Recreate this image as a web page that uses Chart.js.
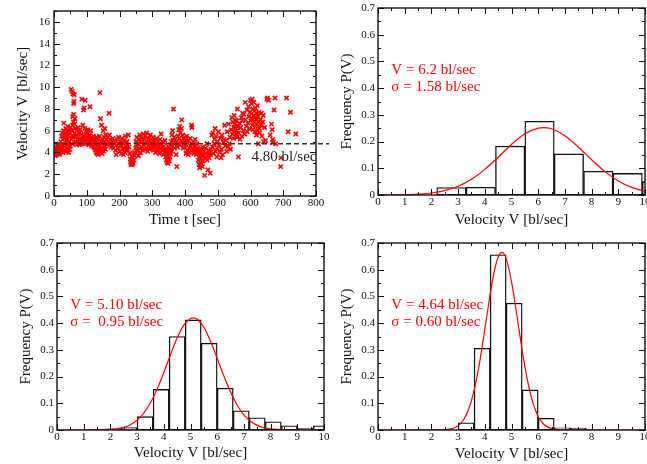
<!DOCTYPE html>
<html>
<head>
<meta charset="utf-8">
<script src="https://cdn.jsdelivr.net/npm/chart.js@4.4.0/dist/chart.umd.min.js"></script>
<style>
  html, body { margin: 0; padding: 0; background: #fff; }
  #page { position: relative; width: 647px; height: 464px; overflow: hidden; }
  .panel { position: absolute; }
</style>
</head>
<body>
<div id="page">
  <div class="panel" style="left:0;top:0"><canvas id="timeChart" width="330" height="232"></canvas></div>
  <div class="panel" style="left:330px;top:0"><canvas id="histB" width="317" height="232"></canvas></div>
  <div class="panel" style="left:0;top:232px"><canvas id="histC" width="330" height="232"></canvas></div>
  <div class="panel" style="left:330px;top:232px"><canvas id="histD" width="317" height="232"></canvas></div>
</div>
<script>
// ---- time series (t [sec], V [bl/sec])
const trackSamples = [
  [1,4.0],[2,3.8],[3,4.3],[4,3.7],[5,4.1],[6,4.5],[7,3.9],[8,4.2],[9,3.8],[10,4.4],[11,4.0],[12,4.6],[13,3.9],[14,4.2],[15,4.8],[16,4.1],[17,3.8],[18,4.5],[19,4.0],[20,4.3],
  [21,5.0],[22,4.4],[23,5.5],[24,4.1],[25,5.8],[26,4.7],[27,5.2],[28,4.0],[29,6.0],[30,6.7],[31,4.5],[32,5.4],[33,4.2],[34,5.7],[35,4.8],[36,6.2],[37,4.1],[38,5.1],[39,5.9],[40,4.4],
  [41,5.3],[42,6.4],[43,4.7],[44,5.6],[45,4.0],[46,6.0],[47,5.0],[48,4.3],[49,5.8],[50,4.6],
  [51,6.3],[52,9.8],[53,5.2],[54,6.0],[55,9.6],[56,5.5],[57,7.3],[58,9.4],[59,6.8],[60,7.5],[61,8.7],[62,9.3],[63,5.8],[64,7.1],[65,6.2],[66,5.0],[60,8.5],[57,6.5],[63,6.6],[55,4.8],[59,5.4],
  [67,4.9],[68,5.6],[69,4.7],[70,6.0],[71,5.2],[72,4.8],[73,5.5],[74,6.3],[75,4.9],[76,5.1],[77,5.8],[78,4.7],[79,5.3],[80,6.1],[81,5.0],[82,4.8],[83,5.7],[84,5.2],[85,8.9],[86,4.9],
  [87,5.4],[88,6.5],[89,5.0],[90,7.9],[91,5.6],[92,8.1],[93,5.1],[94,6.2],[95,8.8],[96,4.8],[97,5.5],[98,6.0],[99,5.2],[100,4.9],
  [101,5.8],[102,5.0],[103,6.1],[104,4.8],[105,5.4],[106,5.0],[107,4.7],[108,5.6],[110,8.2],[111,5.1],[112,6.0],[113,4.9],[114,5.3],[115,4.6],[117,5.2],[118,4.7],[120,5.5],[121,4.5],
  [122,4.9],[124,4.4],[125,5.1],[126,4.2],[128,4.8],[129,4.0],[130,5.4],
  [131,4.3],[132,3.9],[133,5.0],[134,4.5],[135,3.8],[136,5.3],[137,4.1],[138,4.7],[139,5.5],[140,9.5],[141,4.4],[142,7.1],[143,5.0],[144,4.2],[145,6.5],[146,4.8],[147,3.9],[148,5.2],
  [149,4.4],[150,6.0],[151,4.9],[152,4.1],[153,5.4],[154,4.6],[155,6.2],[156,5.0],[157,4.3],[158,5.6],[159,4.8],[160,5.2],
  [162,4.7],[164,5.4],[166,5.0],[168,7.6],[169,5.6],[170,4.8],[172,5.2],[174,4.5],[176,5.0],[178,4.6],[180,5.3],[182,4.4],[184,4.9],[186,5.1],[188,4.2],[190,3.8],[191,4.7],[193,5.2],
  [195,4.4],[197,5.4],[199,4.8],[201,4.1],[203,5.0],[205,4.6],[206,3.9],[208,5.3],[209,4.3],[211,4.8],[212,3.8],[214,5.1],[215,4.4],[217,4.0],[218,5.5],[220,4.6],[221,4.2],[223,5.0],
  [224,4.7],[226,4.3],[227,5.6],[229,4.5],
  [231,3.9],[233,3.4],[234,3.1],[235,2.9],[236,3.3],[237,3.0],[238,3.6],[239,2.9],[240,3.2],[241,3.5],[242,3.0],[243,3.8],[244,3.3],[245,4.0],[247,3.7],[249,4.4],
  [250,5.0],[252,4.5],[253,5.4],[255,4.1],[256,4.8],[258,3.7],[259,5.2],[261,4.4],[262,5.6],[264,4.0],[265,4.9],[267,5.3],[268,4.5],[270,5.0],[271,4.2],[273,5.7],[274,4.7],[276,5.2],
  [277,4.3],[279,5.5],[280,4.8],[282,4.4],[283,5.8],[285,4.9],[286,4.1],[288,5.3],[289,4.6],[291,5.0],[292,4.3],[294,5.6],[295,4.8],[297,4.5],[298,5.2],[300,4.4],[301,4.9],[303,5.4],
  [304,4.2],[306,4.7],[307,5.1],[309,4.5],[310,4.0],[312,4.8],[313,5.3],[315,4.3],[316,4.7],[318,5.0],[319,4.1],[321,4.6],[322,3.9],[324,5.2],[325,4.4],[327,5.7],[328,4.8],[330,4.2],
  [331,5.0],[333,4.5],[334,3.8],[336,4.9],[337,4.3],[339,5.1],
  [340,4.0],[341,3.6],[342,4.4],[343,3.3],[344,3.9],[345,3.1],[346,4.2],[347,3.5],[348,3.0],[349,3.8],[350,4.5],[351,3.4],[352,3.2],[353,4.0],[354,3.6],[355,4.7],[356,3.9],[357,4.3],
  [358,5.0],[359,4.1],
  [360,5.6],[361,4.6],[362,6.0],[363,5.1],[365,8.0],[366,4.8],[367,5.4],[368,4.4],[370,5.2],[371,4.9],[373,3.8],[375,2.7],[376,5.0],[377,4.5],[379,5.5],[380,4.8],[381,6.1],[382,5.3],
  [384,6.4],[385,4.7],[386,5.8],[388,5.1],[389,6.2],[390,7.0],[391,4.9],[393,5.6],[394,4.4],[396,5.3],[397,4.8],[399,5.0],
  [400,4.5],[401,5.2],[403,3.9],[404,4.7],[405,5.5],[407,4.2],[408,4.9],[410,3.8],[411,5.1],[413,4.4],[414,4.0],[416,5.3],[417,4.6],[419,4.1],[420,6.5],[421,6.3],[422,4.8],[424,4.3],
  [425,5.0],[427,3.9],[428,4.6],[430,4.2],[431,5.2],[433,4.5],[434,3.8],[436,4.8],[437,4.1],[439,4.4],
  [440,3.9],[441,3.3],[442,4.2],[443,2.9],[444,3.6],[445,2.6],[446,3.1],[447,4.0],[448,2.8],[449,3.4],[450,4.3],[451,3.0],[452,3.7],[453,2.7],[454,4.5],[455,3.2],[456,3.8],[458,4.1],
  [460,1.9],[461,3.5],[463,4.4],[465,3.9],[467,4.8],[468,3.3],[470,2.4],[471,3.7],[472,4.2],[473,3.5],[475,4.0],[477,2.1],[478,3.8],[479,4.3],
  [482,5.6],[484,4.5],[485,5.8],[487,3.9],[489,4.8],[490,5.2],[492,6.2],[493,4.1],[495,5.5],[497,3.6],[498,4.4],[500,5.0],[502,5.9],[504,4.7],[506,4.0],[508,5.3],[510,3.5],[511,4.3],
  [513,5.6],[515,3.8],[517,4.9],[519,5.2],
  [521,6.5],[523,4.6],[525,5.1],[527,4.1],[529,5.9],[531,4.5],[533,6.6],[535,4.8],[537,5.4],[539,4.3],[541,6.1],[543,7.2],[545,5.7],[546,6.8],[548,5.3],[549,6.3],[550,7.4],[551,5.9],
  [552,6.6],[553,5.5],[554,7.0],[555,6.2],[556,5.7],[557,6.9],[558,6.0],[559,5.4],[560,8.0],[561,6.4],[563,3.6],[564,5.8],[566,6.7],[568,5.2],
  [570,6.3],[572,7.2],[573,5.5],[575,6.9],[576,7.6],[578,6.0],[580,7.5],[582,5.7],[584,8.6],[585,7.0],[587,6.4],[589,7.9],[590,5.9],[592,6.7],[594,8.2],[595,7.3],[597,6.2],[599,7.7],
  [600,8.8],[601,6.9],[603,8.5],[604,7.1],[605,8.9],[606,6.5],[607,8.0],[608,6.1],[609,7.4],[610,8.6],[611,6.8],[612,7.8],[613,5.9],[614,7.2],[615,6.4],[616,8.1],[617,7.0],[618,5.6],
  [619,7.6],[620,6.6],[621,8.3],[622,6.0],[623,7.3],[624,4.8],[625,6.9],[626,7.7],[627,6.2],[628,5.8],[630,7.0],[632,6.5],[633,7.6],[635,5.5],[637,6.8],[639,7.4],[640,5.0],
  [643,6.3],[646,5.1],[650,8.9],[652,9.0],[655,8.8],[660,5.6],[664,6.6],[666,6.1],[667,4.9],[668,5.2],[670,5.0],[672,7.9],[675,9.0],[677,4.8],[692,2.7],[693,3.5],[710,9.0],[715,5.9],
  [722,7.7],[738,5.7]
];
const meanVelocity = 4.80;
const meanLineSpan = [0, 840];   // dashed line runs a little past the frame
const timeTicks = [0, 100, 200, 300, 400, 500, 600, 700, 800];
const velocityTicks = [0, 2, 4, 6, 8, 10, 12, 14, 16];

// ---- histograms
const histXTicks = [0, 1, 2, 3, 4, 5, 6, 7, 8, 9, 10];
const histYTicks = [0, 0.1, 0.2, 0.3, 0.4, 0.5, 0.6, 0.7];

// top right
const binWidthB = 1.1;
const binCentresB = [2.75, 3.85, 4.95, 6.05, 7.15, 8.25, 9.35, 10.45];
const freqB = [0.028, 0.029, 0.183, 0.276, 0.154, 0.089, 0.081, 0.050];
const fitXB = [0, 0.5, 1, 1.5, 2, 2.5, 3, 3.5, 4, 4.5, 5, 5.5, 6, 6.2, 6.5, 7, 7.5, 8, 8.5, 9, 9.5, 10];
const fitYB = [0.0001, 0.0004, 0.0011, 0.0030, 0.0074, 0.0163, 0.0325, 0.0586, 0.0958, 0.1415, 0.1893, 0.2289, 0.2505, 0.2525, 0.2480, 0.2222, 0.1799, 0.1320, 0.0875, 0.0525, 0.0285, 0.0140];
const notesB = ['V = 6.2 bl/sec', 'σ = 1.58 bl/sec'];

// bottom left
const binWidthC = 0.6;
const binCentresC = [2.1, 2.7, 3.3, 3.9, 4.5, 5.1, 5.7, 6.3, 6.9, 7.5, 8.1, 8.7, 9.3, 9.9];
const freqC = [0.004, 0.009, 0.050, 0.152, 0.350, 0.412, 0.325, 0.157, 0.072, 0.046, 0.031, 0.016, 0.006, 0.016];
const fitXC = [0, 1.5, 2, 2.5, 2.75, 3, 3.25, 3.5, 3.75, 4, 4.25, 4.5, 4.75, 5, 5.1, 5.25, 5.5, 5.75, 6, 6.25, 6.5, 6.75, 7, 7.25, 7.5, 7.75, 8, 8.5, 10];
const fitYC = [0, 0.0003, 0.0020, 0.0099, 0.0197, 0.0365, 0.0631, 0.1017, 0.1530, 0.2149, 0.2815, 0.3440, 0.3924, 0.4177, 0.4200, 0.4148, 0.3844, 0.3324, 0.2681, 0.2018, 0.1418, 0.0929, 0.0568, 0.0324, 0.0173, 0.0086, 0.0040, 0.0007, 0];
const notesC = ['V = 5.10 bl/sec', 'σ =  0.95 bl/sec'];

// bottom right
const binWidthD = 0.6;
const binCentresD = [3.3, 3.9, 4.5, 5.1, 5.7, 6.3, 6.9, 7.5];
const freqD = [0.027, 0.306, 0.656, 0.475, 0.150, 0.044, 0.008, 0.007];
const fitXD = [0, 2.4, 2.8, 3.0, 3.2, 3.4, 3.6, 3.8, 4.0, 4.2, 4.3, 4.4, 4.5, 4.6, 4.64, 4.7, 4.8, 5.0, 5.2, 5.4, 5.6, 5.8, 6.0, 6.2, 6.4, 6.6, 7.0, 10];
const fitYD = [0, 0.0006, 0.0060, 0.0159, 0.0373, 0.0785, 0.1481, 0.2496, 0.3765, 0.5082, 0.5664, 0.6139, 0.6471, 0.6635, 0.6650, 0.6617, 0.6417, 0.5555, 0.4304, 0.2981, 0.1849, 0.1026, 0.0509, 0.0226, 0.0090, 0.0032, 0.0003, 0];
const notesD = ['V = 4.64 bl/sec', 'σ = 0.60 bl/sec'];

const ink = '#111';
const serif = "'Liberation Serif', 'Times New Roman', serif";

// midpoints between the labelled ticks, used for the small ticks
function minorTicks(major, max) {
  const out = [];
  for (let i = 0; i < major.length - 1; i++) out.push((major[i] + major[i + 1]) / 2);
  const last = major[major.length - 1] + (major[1] - major[0]) / 2;
  if (last <= max + 1e-9) out.push(last);
  return out;
}

// box frame with inward ticks on all four sides, plus text notes
const framePlugin = {
  id: 'frame',
  afterDatasetsDraw(chart, args, opts) {
    const { ctx, chartArea: a, scales } = chart;
    ctx.save();
    ctx.strokeStyle = ink;
    ctx.lineWidth = 1;
    ctx.beginPath();
    const mark = (scale, values, len) => {
      values.forEach(v => {
        const p = Math.round(scale.getPixelForValue(v)) + 0.5;
        if (scale.isHorizontal()) {
          ctx.moveTo(p, a.bottom); ctx.lineTo(p, a.bottom - len);
          ctx.moveTo(p, a.top); ctx.lineTo(p, a.top + len);
        } else {
          ctx.moveTo(a.left, p); ctx.lineTo(a.left + len, p);
          ctx.moveTo(a.right, p); ctx.lineTo(a.right - len, p);
        }
      });
    };
    [scales.x, scales.y].forEach(s => {
      const major = s.ticks.map(t => t.value);
      mark(s, major, 6);
      mark(s, minorTicks(major, s.max), 3);
    });
    ctx.stroke();
    ctx.lineWidth = 1.4;
    ctx.strokeRect(a.left, a.top, a.width, a.height);

    (opts.notes || []).forEach(n => {
      ctx.font = '15px ' + serif;
      ctx.fillStyle = n.color;
      ctx.textAlign = 'left';
      ctx.textBaseline = 'middle';
      const x = scales.x.getPixelForValue(n.x);
      const y = scales.y.getPixelForValue(n.y);
      n.lines.forEach((s, i) => ctx.fillText(s, x, y + i * 16.5));
    });
    ctx.restore();
  }
};

function axis(pos, min, max, values, size, title, titlePad, labelPad, fmt) {
  return {
    type: 'linear', position: pos, min: min, max: max, offset: false,
    afterBuildTicks: s => { s.ticks = values.map(v => ({ value: v })); },
    afterFit: s => {
      if (pos === 'bottom') s.height = size; else s.width = size;
      s.paddingLeft = 0; s.paddingRight = 0; s.paddingTop = 0; s.paddingBottom = 0;
    },
    grid: { display: false, drawTicks: false, offset: false },
    border: { display: false },
    ticks: { padding: labelPad, color: ink, autoSkip: false, maxRotation: 0, font: { family: serif, size: 11 }, callback: fmt },
    title: {
      display: true, text: title, color: ink, font: { family: serif, size: 15 },
      padding: pos === 'bottom' ? { top: 0, bottom: titlePad } : { top: titlePad, bottom: 0 }
    }
  };
}

const plain = v => String(v);
const tenths = v => (v === 0 ? '0' : v.toFixed(1));

// ---- top left: velocity against time
new Chart(document.getElementById('timeChart'), {
  type: 'scatter',
  data: {
    datasets: [
      {
        type: 'line',
        data: meanLineSpan.map(t => ({ x: t, y: meanVelocity })),
        borderColor: '#333', borderWidth: 1.3, borderDash: [5, 3],
        pointRadius: 0, clip: false, order: 0
      },
      {
        data: trackSamples.map(p => ({ x: p[0], y: p[1] })),
        pointStyle: 'crossRot', pointRadius: 3,
        borderColor: '#ff0000', backgroundColor: '#ff0000', borderWidth: 1.6, order: 1
      }
    ]
  },
  options: {
    responsive: false, animation: false, events: [],
    layout: { padding: { top: 11, right: 14, left: 0, bottom: 0 } },
    plugins: {
      legend: { display: false }, tooltip: { enabled: false },
      frame: { notes: [{ x: 603, y: 3.62, color: '#222', lines: ['4.80 bl/sec'] }] }
    },
    scales: {
      x: axis('bottom', 0, 800, timeTicks, 36, 'Time t [sec]', 3, 1, plain),
      y: axis('left', 0, 17, velocityTicks, 54, 'Velocity V [bl/sec]', 14, 4, plain)
    }
  },
  plugins: [framePlugin]
});

// ---- histograms with their gaussian fits
function histogram(id, centres, freq, width, fitX, fitY, notes, box) {
  const chart = new Chart(document.getElementById(id), {
    type: 'bar',
    data: {
      datasets: [
        {
          type: 'line',
          data: fitX.map((x, i) => ({ x: x, y: fitY[i] })),
          borderColor: '#ff0000', borderWidth: 1.2, pointRadius: 0,
          cubicInterpolationMode: 'monotone', order: 0
        },
        {
          type: 'bar',
          data: centres.map((x, i) => ({ x: x, y: freq[i] })),
          backgroundColor: '#ffffff', borderColor: ink, borderWidth: 1.4,
          borderSkipped: false, barPercentage: 1, categoryPercentage: 1, order: 1
        }
      ]
    },
    options: {
      responsive: false, animation: false, events: [],
      layout: { padding: { top: box.top, right: box.right, left: 0, bottom: 0 } },
      plugins: {
        legend: { display: false }, tooltip: { enabled: false },
        frame: { notes: [{ x: 0.5, y: 0.467, color: '#ff0000', lines: notes }] }
      },
      scales: {
        x: axis('bottom', 0, 10, histXTicks, box.bottom, 'Velocity V [bl/sec]', box.xTitlePad, 1, plain),
        y: axis('left', 0, 0.7, histYTicks, box.left, 'Frequency P(V)', box.yTitlePad, 3, tenths)
      }
    },
    plugins: [framePlugin]
  });
  // each bar spans exactly one bin on the x scale
  const xs = chart.scales.x;
  chart.data.datasets[1].barThickness = xs.getPixelForValue(width) - xs.getPixelForValue(0);
  chart.update('none');
}

histogram('histB', binCentresB, freqB, binWidthB, fitXB, fitYB, notesB,
  { top: 8, right: 2, left: 48, bottom: 37, xTitlePad: 3, yTitlePad: 8 });
histogram('histC', binCentresC, freqC, binWidthC, fitXC, fitYC, notesC,
  { top: 11, right: 6, left: 57, bottom: 34, xTitlePad: 2, yTitlePad: 17 });
histogram('histD', binCentresD, freqD, binWidthD, fitXD, fitYD, notesD,
  { top: 11, right: 2, left: 48, bottom: 34, xTitlePad: 1, yTitlePad: 8 });
</script>
</body>
</html>
